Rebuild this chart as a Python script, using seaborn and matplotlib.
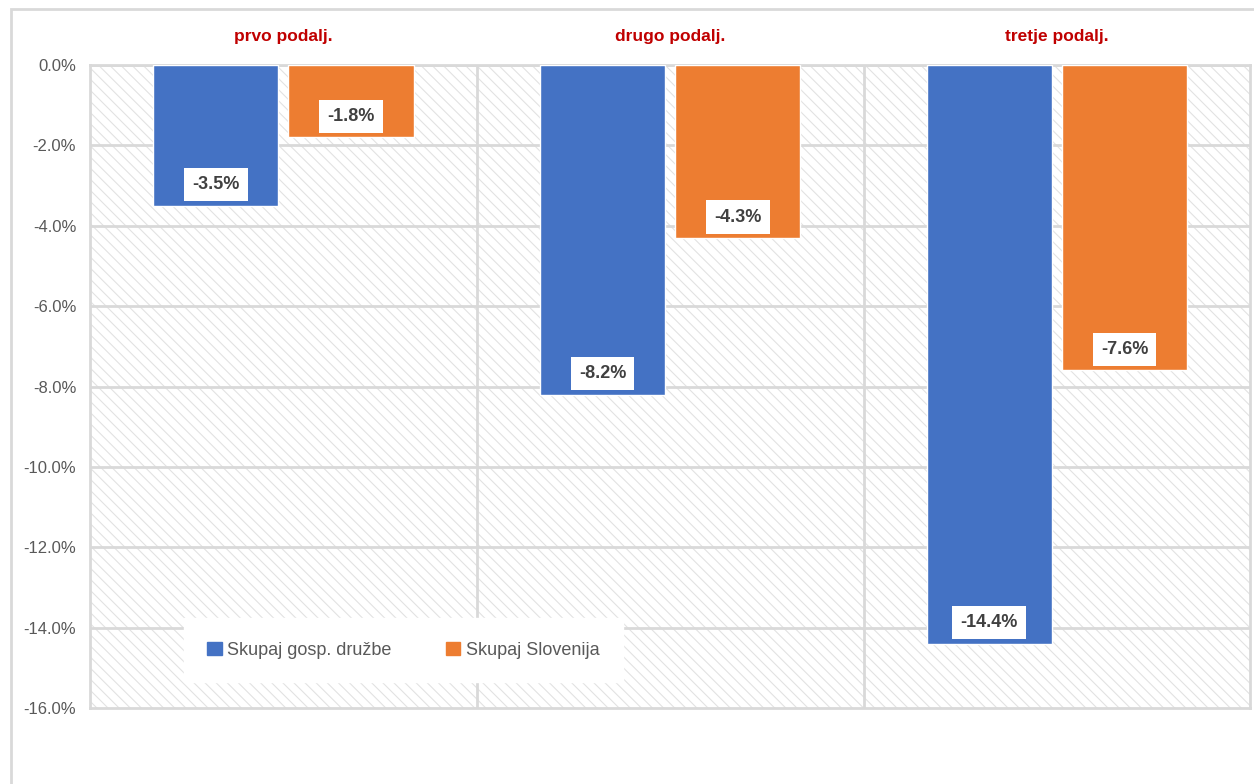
import pandas as pd
import matplotlib.pyplot as plt
import matplotlib.patches as mpatches
import seaborn as sns

# Chart data
periods = ["prvo podalj.", "drugo podalj.", "tretje podalj."]
series = ["Skupaj gosp. družbe", "Skupaj Slovenija"]
gosp_druzbe = [-3.5, -8.2, -14.4]
slovenija = [-1.8, -4.3, -7.6]
colors = ["#4472C4", "#ED7D31"]

df = pd.DataFrame({
    "period": periods * 2,
    "series": [series[0]] * 3 + [series[1]] * 3,
    "value": gosp_druzbe + slovenija,
})

sns.set_style("white")
plt.rcParams["font.family"] = ["Liberation Sans Narrow", "Liberation Sans", "DejaVu Sans"]
plt.rcParams["hatch.linewidth"] = 0.8

fig = plt.figure(figsize=(12.54, 7.84), dpi=100)
ax = fig.add_axes([0.0718, 0.097, 0.9252, 0.820])

# Outer chart border
fig.patches.append(mpatches.Rectangle((11 / 1254, -0.1), 1.2, 1 - 9 / 784 + 0.1,
                                      transform=fig.transFigure, fill=False,
                                      edgecolor="#d9d9d9", linewidth=2))

# Hatched plot background
ax.patch.set_facecolor("white")
ax.add_patch(mpatches.Rectangle((0, 0), 1, 1, transform=ax.transAxes, facecolor="white",
                                edgecolor="#e2e2e2", hatch="\\\\\\", linewidth=0, zorder=0))

sns.barplot(data=df, x="period", y="value", hue="series", palette=colors,
            width=0.70, gap=0.074, saturation=1, ax=ax, zorder=3)

ax.set_ylim(-16, 0)
ax.set_xlim(-0.5, 2.5)
yticks = [-16, -14, -12, -10, -8, -6, -4, -2, 0]
ax.set_yticks(yticks)
ax.set_yticklabels([f"{v:.1f}%" for v in yticks])
ax.tick_params(axis="y", length=0, labelsize=12, labelcolor="#595959", pad=10)
ax.set_xticks([])
ax.set_xlabel("")
ax.set_ylabel("")

# Gridlines and group separators
for y in yticks[1:]:
    ax.axhline(y, color="#d9d9d9", linewidth=2, zorder=1)
for x in [0.5, 1.5]:
    ax.axvline(x, color="#d9d9d9", linewidth=2, zorder=1)
for side in ax.spines.values():
    side.set_color("#d9d9d9")
    side.set_linewidth(2)

# Group titles on top
for i, p in enumerate(periods):
    ax.text(i, 1.045, p, transform=ax.get_xaxis_transform(), ha="center", va="center",
            color="#C00000", fontsize=12.5, fontweight="bold")

# Data labels inside bar ends
for cont in ax.containers:
    for bar in cont:
        h = bar.get_height()
        ax.annotate(f"{h:.1f}%", (bar.get_x() + bar.get_width() / 2, h),
                    xytext=(0, 15), textcoords="offset points", ha="center", va="center",
                    fontsize=13, fontweight="bold", color="#404040", zorder=5,
                    bbox=dict(boxstyle="square,pad=0.45", facecolor="white", edgecolor="none"))

handles = [mpatches.Patch(color=c) for c in colors]
leg = ax.legend(handles, series, loc="center", bbox_to_anchor=(0.27, 0.09), ncol=2,
                frameon=True, fancybox=False, edgecolor="white", framealpha=1,
                fontsize=13, handlelength=0.8, handleheight=0.8, handletextpad=0.3,
                columnspacing=3.0, borderpad=1.3, borderaxespad=0)
for t in leg.get_texts():
    t.set_color("#595959")

fig.savefig("out.png", dpi=100)
